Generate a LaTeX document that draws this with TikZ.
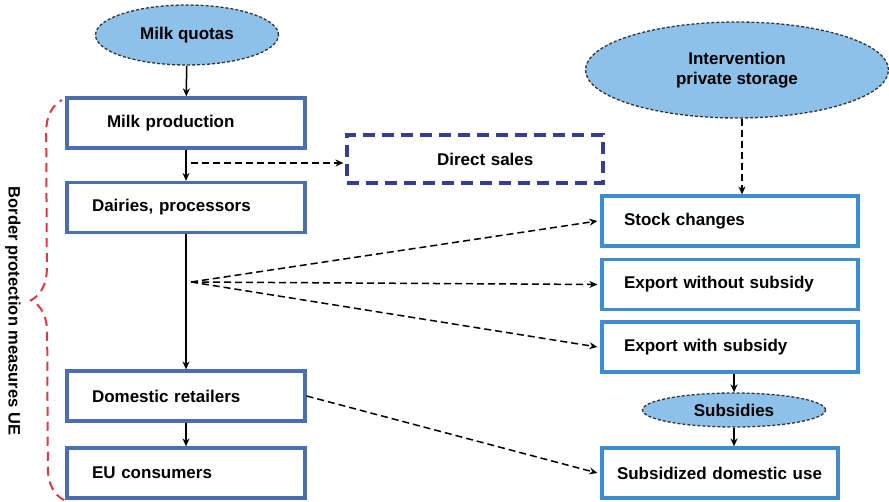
\documentclass[tikz,border=0pt]{standalone}
\usepackage{fontspec}
\setmainfont{Liberation Sans}
\usetikzlibrary{positioning, shapes.geometric, arrows.meta, decorations.pathreplacing}
\definecolor{leftblue}{HTML}{4A6DB4}
\definecolor{rightblue}{HTML}{3F8DD0}
\definecolor{navyblue}{HTML}{353C96}
\definecolor{ovalfill}{HTML}{8DC1E9}
\definecolor{bracered}{HTML}{E0383C}
\tikzset{
  flowbox/.style={
    minimum width=238pt,
    minimum height=50pt,
    inner xsep=25pt,
    text width=188pt, align=left,
    draw=leftblue, line width=3.2pt, fill=white,
  },
  outbox/.style={
    minimum width=256pt,
    minimum height=50pt,
    inner xsep=22pt,
    text width=212pt, align=left,
    draw=rightblue, line width=3.2pt, fill=white,
  },
  oval/.style={
    ellipse, draw=black!80, dash pattern=on 3pt off 2pt, line width=1.3pt,
    fill=ovalfill, align=center, inner sep=0pt,
  },
  link/.style={-{Stealth[length=8pt,width=7pt]}, line width=1.5pt},
  dashlink/.style={link, dash pattern=on 7pt off 4pt},
}
\begin{document}
\begin{tikzpicture}[x=1pt, y=-1pt, font=\fontsize{17}{20}\selectfont\bfseries]
\useasboundingbox (0,0) rectangle (889,502);
% left column
\node[oval, minimum width=183pt, minimum height=60pt] (quotas) at (187,35) {Milk quotas};
\node[flowbox] (milkprod) at (186,123) {\hspace*{15pt}Milk production};
\node[flowbox] (dairies) at (186,207.5) {Dairies, processors};
\node[flowbox] (retail) at (186,396) {Domestic retailers};
\node[flowbox] (consumers) at (186,473) {EU consumers};
\node[flowbox, minimum width=256pt, text width=206pt, draw=navyblue,
  dash pattern=on 12pt off 7pt, minimum height=48pt] (direct) at (475,159)
  {\hspace*{65pt}Direct sales};

% right column
\node[oval, minimum width=303pt, minimum height=96pt] (storage) at (737,70)
  {Intervention\\private storage};
\node[outbox] (stock) at (730,221) {Stock changes};
\node[outbox] (expfree) at (730,284.5) {Export without subsidy};
\node[outbox] (expsub) at (730,347) {Export with subsidy};
\node[oval, minimum width=183pt, minimum height=34pt] (subsidies) at (734,410) {Subsidies};
\node[outbox, minimum width=236pt, text width=210pt, inner xsep=13pt] (subdom) at (720,473)
  {\hspace*{2pt}Subsidized domestic use};

\coordinate (ds) at (186,163);
\coordinate (fan) at (191,282);

\draw[link] (quotas) -- (milkprod);
\draw[link] (milkprod.south -| ds) -- (dairies.north -| ds);
\draw[link] (dairies.south -| ds) -- (retail.north -| ds);
\draw[link] (retail.south -| ds) -- (consumers.north -| ds);
\draw[dashlink] ([xshift=5pt]ds) -- ([xshift=-2pt]ds -| direct.west);
\draw[dashlink] (storage.south -| 742,0) -- (stock.north -| 742,0);
\foreach \target in {stock, expfree, expsub}
  \draw[dashlink] (fan) -- ([xshift=-3pt]\target.west);
\draw[dashlink] (retail.east) -- ([xshift=-3pt]subdom.west);
\draw[link] (expsub.south -| subsidies) -- (subsidies);
\draw[link] (subsidies) -- (subdom.north -| subsidies);

% brace
\coordinate (bracebot) at (64,500);
\coordinate (bracetop) at (62,100);
\draw[bracered, line width=2pt, dash pattern=on 9pt off 6pt,
  decorate, decoration={brace, amplitude=32pt}] (bracebot) -- (bracetop);
\node[rotate=-90, font=\fontsize{16.5}{19}\selectfont\bfseries] (border) at (13,311)
  {Border protection measures UE};
\end{tikzpicture}
\end{document}
